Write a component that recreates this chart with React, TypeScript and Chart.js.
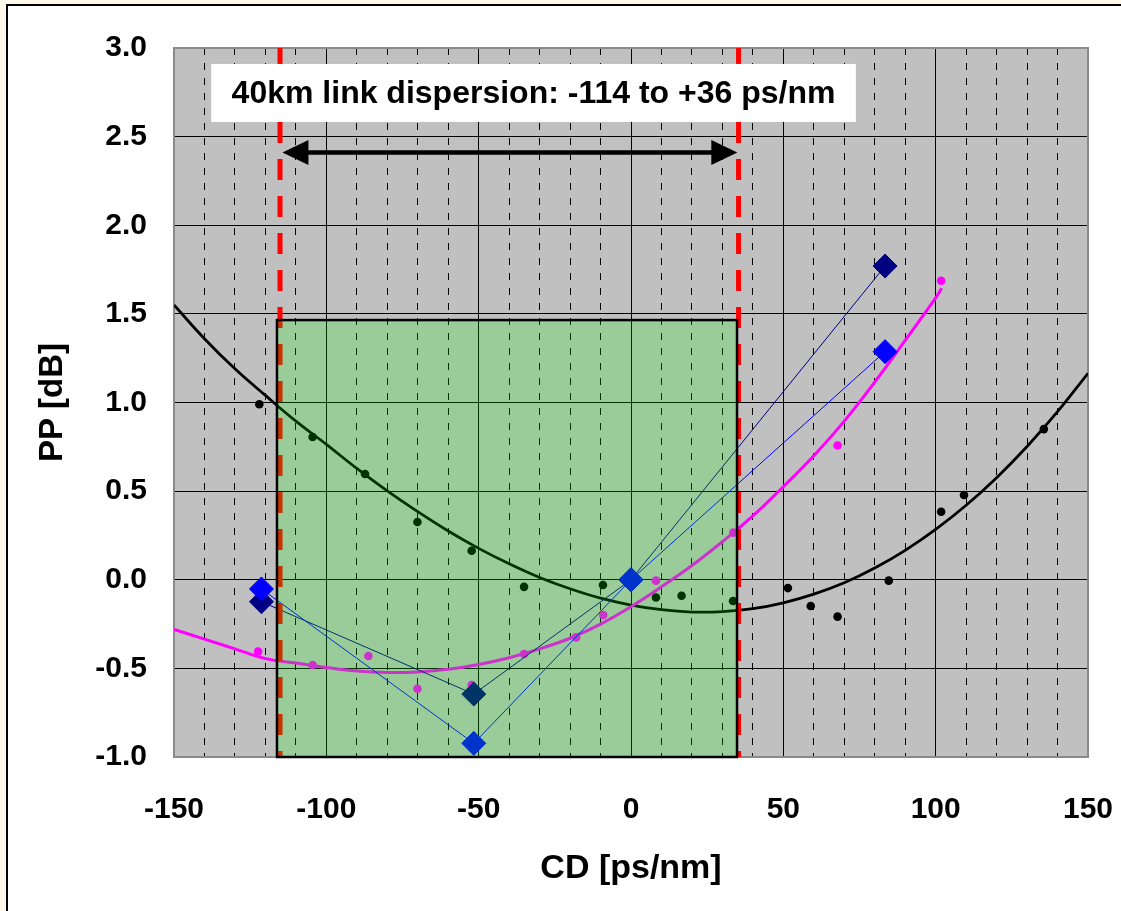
import React, { useEffect, useRef } from 'react';
import { Chart, registerables } from 'chart.js';

Chart.register(...registerables);

const FONT = "'Liberation Sans', Arial, Helvetica, sans-serif";

// Axes
const X_MIN = -150;
const X_MAX = 150;
const X_STEP = 10;
const X_MAJOR = 50;
const Y_MIN = -1;
const Y_MAX = 3;
const Y_STEP = 0.5;
const X_TITLE = 'CD [ps/nm]';
const Y_TITLE = 'PP [dB]';

// Measured points (black dots)
const BLACK_DOT_X = [-122, -104.5, -87.3, -70.1, -52.3, -35.1, -9.2, 8.2, 16.6, 33.5, 51.5, 59, 67.8, 84.6, 101.8, 109.3, 135.5];
const BLACK_DOT_Y = [0.99, 0.805, 0.597, 0.326, 0.164, -0.04, -0.03, -0.1, -0.09, -0.12, -0.047, -0.148, -0.208, -0.005, 0.384, 0.478, 0.85];

// Measured points (magenta dots)
const MAGENTA_DOT_X = [-122.4, -104.5, -86.2, -70.1, -52.3, -35.1, -18, -9.1, 8.2, 33.6, 67.8, 101.8];
const MAGENTA_DOT_Y = [-0.405, -0.481, -0.43, -0.615, -0.594, -0.419, -0.325, -0.199, -0.005, 0.266, 0.757, 1.687];

// Black trend curve
const BLACK_FIT_X = [-150, -140, -130, -120, -110, -100, -90, -80, -70, -60, -50, -40, -30, -20, -10, 0, 10, 20, 30, 40, 50, 60, 70, 80, 90, 100, 110, 120, 130, 140, 150];
const BLACK_FIT_Y = [1.55, 1.36, 1.19, 1.04, 0.895, 0.764, 0.628, 0.501, 0.384, 0.275, 0.177, 0.09, 0.013, -0.051, -0.104, -0.143, -0.169, -0.182, -0.18, -0.163, -0.13, -0.081, -0.017, 0.066, 0.166, 0.284, 0.42, 0.576, 0.752, 0.948, 1.165];

// Magenta trend curve
const MAGENTA_FIT_X = [-150, -140, -130, -120, -110, -100, -90, -80, -70, -60, -50, -40, -30, -20, -10, 0, 10, 20, 30, 40, 50, 60, 70, 80, 90, 100, 102];
const MAGENTA_FIT_Y = [-0.28, -0.335, -0.39, -0.445, -0.47, -0.495, -0.515, -0.523, -0.52, -0.505, -0.478, -0.44, -0.39, -0.33, -0.25, -0.152, -0.04, 0.08, 0.215, 0.36, 0.525, 0.7, 0.895, 1.115, 1.35, 1.59, 1.645];

// Diamond series
const NAVY_X = [-121.3, -51.6, 0, 83.4];
const NAVY_Y = [-0.124, -0.645, 0, 1.77];
const BLUE_X = [-121.3, -51.6, 0, 83.4];
const BLUE_Y = [-0.052, -0.923, 0, 1.287];

// Annotations (data units)
const LINK_LABEL = '40km link dispersion: -114 to +36 ps/nm';
const RED_LINE_X = [-115.2, 35.3];
const GREEN_X0 = -116.2;
const GREEN_X1 = 34.8;
const GREEN_Y0 = -1;
const GREEN_Y1 = 1.465;
const ARROW_X0 = -114.4;
const ARROW_X1 = 34.9;
const ARROW_Y = 2.41;
const BOX_X0 = -137.8;
const BOX_X1 = 73.8;
const BOX_Y0 = 2.583;
const BOX_Y1 = 2.91;

const zip = (xs: number[], ys: number[]) => xs.map((x, i) => ({ x, y: ys[i] }));

const decorPlugin = {
  id: 'decor',
  beforeDraw(chart: any) {
    const { ctx, chartArea: a, width, height } = chart;
    ctx.save();
    ctx.fillStyle = '#FEF8E8';
    ctx.fillRect(0, 0, width, height);
    ctx.fillStyle = '#FFFFFF';
    ctx.fillRect(7, 5, width, height);
    ctx.strokeStyle = '#000000';
    ctx.lineWidth = 2;
    ctx.beginPath();
    ctx.moveTo(7, height);
    ctx.lineTo(7, 5);
    ctx.lineTo(width, 5);
    ctx.stroke();
    ctx.fillStyle = '#C0C0C0';
    ctx.fillRect(a.left, a.top, a.right - a.left, a.bottom - a.top);
    ctx.restore();
  },
  beforeDatasetsDraw(chart: any) {
    const { ctx, chartArea: a } = chart;
    ctx.save();
    ctx.strokeStyle = '#8A8A8A';
    ctx.lineWidth = 2;
    ctx.strokeRect(a.left, a.top, a.right - a.left, a.bottom - a.top);
    ctx.restore();
  },
  afterDatasetsDraw(chart: any) {
    const { ctx, chartArea: a } = chart;
    const xs = chart.scales.x;
    const ys = chart.scales.y;
    ctx.save();
    // red dashed limits
    ctx.strokeStyle = '#FF0000';
    ctx.lineWidth = 5;
    ctx.setLineDash([21, 16]);
    RED_LINE_X.forEach((v) => {
      const px = xs.getPixelForValue(v);
      ctx.beginPath();
      ctx.moveTo(px, a.top);
      ctx.lineTo(px, a.bottom);
      ctx.stroke();
    });
    ctx.setLineDash([]);
    // green translucent window
    const gx0 = xs.getPixelForValue(GREEN_X0);
    const gx1 = xs.getPixelForValue(GREEN_X1);
    const gy0 = ys.getPixelForValue(GREEN_Y1);
    const gy1 = ys.getPixelForValue(GREEN_Y0);
    ctx.fillStyle = 'rgba(0,255,0,0.2)';
    ctx.fillRect(gx0, gy0, gx1 - gx0, gy1 - gy0);
    ctx.strokeStyle = '#000000';
    ctx.lineWidth = 2.5;
    ctx.strokeRect(gx0, gy0, gx1 - gx0, gy1 - gy0);
    // double arrow
    const ax0 = xs.getPixelForValue(ARROW_X0);
    const ax1 = xs.getPixelForValue(ARROW_X1);
    const ay = ys.getPixelForValue(ARROW_Y);
    const head = 26;
    const half = 12.5;
    ctx.lineWidth = 4.5;
    ctx.beginPath();
    ctx.moveTo(ax0 + head - 2, ay);
    ctx.lineTo(ax1 - head + 2, ay);
    ctx.stroke();
    ctx.fillStyle = '#000000';
    ctx.beginPath();
    ctx.moveTo(ax0, ay);
    ctx.lineTo(ax0 + head, ay - half);
    ctx.lineTo(ax0 + head, ay + half);
    ctx.closePath();
    ctx.fill();
    ctx.beginPath();
    ctx.moveTo(ax1, ay);
    ctx.lineTo(ax1 - head, ay - half);
    ctx.lineTo(ax1 - head, ay + half);
    ctx.closePath();
    ctx.fill();
    // label box
    const bx0 = xs.getPixelForValue(BOX_X0);
    const bx1 = xs.getPixelForValue(BOX_X1);
    const by0 = ys.getPixelForValue(BOX_Y1);
    const by1 = ys.getPixelForValue(BOX_Y0);
    ctx.fillStyle = '#FFFFFF';
    ctx.fillRect(bx0, by0, bx1 - bx0, by1 - by0);
    ctx.fillStyle = '#000000';
    ctx.font = `bold 32px ${FONT}`;
    ctx.textAlign = 'center';
    ctx.textBaseline = 'middle';
    ctx.fillText(LINK_LABEL, (bx0 + bx1) / 2, (by0 + by1) / 2 + 1.5);
    ctx.restore();
  },
};

export default function App() {
  const ref = useRef<HTMLCanvasElement | null>(null);

  useEffect(() => {
    const canvas = ref.current;
    if (!canvas) return;
    const chart = new Chart(canvas, {
      type: 'scatter',
      data: {
        datasets: [
          {
            label: 'blue',
            data: zip(BLUE_X, BLUE_Y),
            showLine: true,
            borderColor: '#0000FF',
            borderWidth: 1,
            tension: 0,
            pointStyle: 'rectRot',
            pointRadius: 12,
            pointBackgroundColor: '#0000FF',
            pointBorderColor: '#0000FF',
            pointBorderWidth: 1,
          },
          {
            label: 'navy',
            data: zip(NAVY_X, NAVY_Y),
            showLine: true,
            borderColor: '#000080',
            borderWidth: 1,
            tension: 0,
            pointStyle: 'rectRot',
            pointRadius: 12,
            pointBackgroundColor: '#000080',
            pointBorderColor: '#000080',
            pointBorderWidth: 1,
          },
          {
            label: 'magenta points',
            data: zip(MAGENTA_DOT_X, MAGENTA_DOT_Y),
            showLine: false,
            pointStyle: 'circle',
            pointRadius: 4.3,
            pointBackgroundColor: '#FF00FF',
            pointBorderColor: '#FF00FF',
            pointBorderWidth: 0,
          },
          {
            label: 'black points',
            data: zip(BLACK_DOT_X, BLACK_DOT_Y),
            showLine: false,
            pointStyle: 'circle',
            pointRadius: 4.3,
            pointBackgroundColor: '#000000',
            pointBorderColor: '#000000',
            pointBorderWidth: 0,
          },
          {
            label: 'magenta fit',
            data: zip(MAGENTA_FIT_X, MAGENTA_FIT_Y),
            showLine: true,
            borderColor: '#FF00FF',
            borderWidth: 3,
            tension: 0.4,
            pointRadius: 0,
          },
          {
            label: 'black fit',
            data: zip(BLACK_FIT_X, BLACK_FIT_Y),
            showLine: true,
            borderColor: '#000000',
            borderWidth: 2.75,
            tension: 0.4,
            pointRadius: 0,
          },
        ],
      },
      options: {
        responsive: false,
        animation: false,
        events: [],
        layout: { padding: { left: 0, top: 48, right: 33, bottom: 0 } },
        plugins: {
          legend: { display: false },
          tooltip: { enabled: false },
        },
        scales: {
          x: {
            type: 'linear',
            min: X_MIN,
            max: X_MAX,
            afterFit: (s: any) => {
              s.height = 154;
              s.paddingLeft = 0;
              s.paddingRight = 0;
            },
            ticks: {
              stepSize: X_STEP,
              autoSkip: false,
              maxRotation: 0,
              padding: 35,
              color: '#000000',
              font: { family: FONT, size: 30, weight: 'bold' },
              callback: (v: any) => (Math.round(Number(v)) % X_MAJOR === 0 ? String(Math.round(Number(v))) : ''),
            },
            grid: { color: '#000000', lineWidth: 1, drawTicks: false },
            border: {
              display: false,
              dash: (ctx: any) =>
                ctx.tick && Math.round(ctx.tick.value) % X_MAJOR !== 0 ? [7, 8] : [],
            },
            title: {
              display: true,
              text: X_TITLE,
              color: '#000000',
              font: { family: FONT, size: 34, weight: 'bold' },
              padding: { top: 0, bottom: 22 },
            },
          },
          y: {
            type: 'linear',
            min: Y_MIN,
            max: Y_MAX,
            afterFit: (s: any) => {
              s.width = 174;
              s.paddingTop = 0;
              s.paddingBottom = 0;
            },
            ticks: {
              stepSize: Y_STEP,
              padding: 27,
              color: '#000000',
              font: { family: FONT, size: 30, weight: 'bold' },
              callback: (v: any) => Number(v).toFixed(1),
            },
            grid: { color: '#000000', lineWidth: 1, drawTicks: false },
            border: { display: false },
            title: {
              display: true,
              text: Y_TITLE,
              color: '#000000',
              font: { family: FONT, size: 33, weight: 'bold' },
              padding: { top: 33, bottom: 0 },
            },
          },
        },
      },
      plugins: [decorPlugin],
    } as any);
    return () => chart.destroy();
  }, []);

  return (
    <div style={{ position: 'absolute', left: 0, top: 0, width: 1121, height: 911 }}>
      <canvas ref={ref} width={1121} height={911} style={{ display: 'block', width: 1121, height: 911 }} />
    </div>
  );
}
